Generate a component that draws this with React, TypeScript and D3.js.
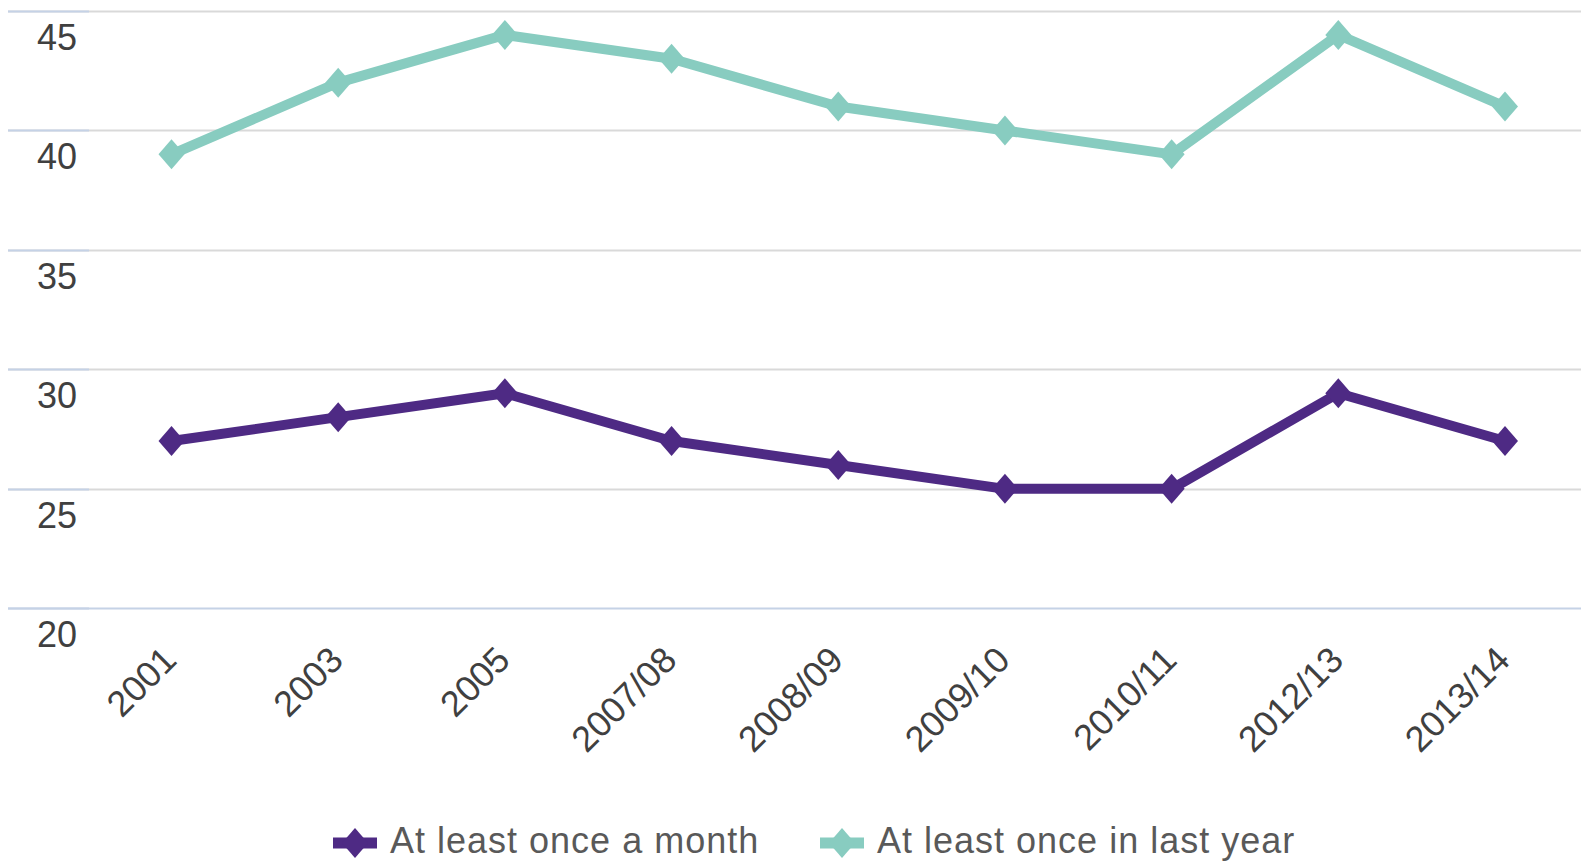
import React, { useEffect, useRef } from 'react';
import * as d3 from 'd3';

const categories = ['2001', '2003', '2005', '2007/08', '2008/09', '2009/10', '2010/11', '2012/13', '2013/14'];
const monthValues = [27, 28, 29, 27, 26, 25, 25, 29, 27];
const yearValues = [39, 42, 44, 43, 41, 40, 39, 44, 41];
const yTicks = [20, 25, 30, 35, 40, 45];

const seriesList = [
    { name: 'At least once a month', values: monthValues, color: '#4e2a84' },
    { name: 'At least once in last year', values: yearValues, color: '#88ccc0' },
];

const App = () => {
    const svgRef = useRef<SVGSVGElement>(null);

    useEffect(() => {
        if (!svgRef.current) return;
        const width = 1581;

        const svg = d3.select(svgRef.current);
        svg.selectAll('*').remove();

        const font = '"Liberation Sans", Arial, sans-serif';

        // scales
        const xScale = d3.scalePoint<string>()
            .domain(categories)
            .range([171.5, 1505]);

        const yScale = d3.scaleLinear()
            .domain([20, 45])
            .range([608.3, 11]);

        // gridlines
        const grid = svg.append('g');
        grid.selectAll('line.grid')
            .data(yTicks)
            .join('line')
            .attr('class', 'grid')
            .attr('x1', 8)
            .attr('x2', width)
            .attr('y1', d => Math.round(yScale(d)) + 0.5)
            .attr('y2', d => Math.round(yScale(d)) + 0.5)
            .attr('stroke', d => d === 20 ? '#c5d2e6' : '#d9d9d9')
            .attr('stroke-width', 2);

        // small bluish tick part at the left
        grid.selectAll('line.tick')
            .data(yTicks)
            .join('line')
            .attr('class', 'tick')
            .attr('x1', 8)
            .attr('x2', 89)
            .attr('y1', d => Math.round(yScale(d)) + 0.5)
            .attr('y2', d => Math.round(yScale(d)) + 0.5)
            .attr('stroke', '#c5d2e6')
            .attr('stroke-width', 2);

        // y labels (sit below their gridline)
        svg.append('g')
            .selectAll('text')
            .data(yTicks)
            .join('text')
            .attr('x', 77)
            .attr('y', d => yScale(d) + 39)
            .attr('text-anchor', 'end')
            .attr('font-family', font)
            .attr('font-size', 36)
            .attr('fill', '#404040')
            .text(d => d);

        // x labels
        svg.append('g')
            .selectAll('text')
            .data(categories)
            .join('text')
            .attr('transform', d => `translate(${(xScale(d) || 0) + 7},662) rotate(-45)`)
            .attr('text-anchor', 'end')
            .attr('font-family', font)
            .attr('font-size', 36)
            .attr('fill', '#404040')
            .text(d => d);

        const diamond = (cx: number, cy: number) =>
            `M${cx},${cy - 15}L${cx + 13},${cy}L${cx},${cy + 15}L${cx - 13},${cy}Z`;

        // lines and markers
        seriesList.forEach(s => {
            const line = d3.line<number>()
                .x((d, i) => xScale(categories[i]) || 0)
                .y(d => yScale(d));

            svg.append('path')
                .datum(s.values)
                .attr('d', line)
                .attr('fill', 'none')
                .attr('stroke', s.color)
                .attr('stroke-width', 10)
                .attr('stroke-linejoin', 'round');

            svg.append('g')
                .selectAll('path')
                .data(s.values)
                .join('path')
                .attr('d', (d, i) => diamond(xScale(categories[i]) || 0, yScale(d)))
                .attr('fill', s.color);
        });

        // legend
        const legendItems = [
            { x: 333, textX: 390 },
            { x: 820, textX: 877 },
        ];
        const legend = svg.append('g');
        seriesList.forEach((s, i) => {
            const item = legendItems[i];
            const cy = 843;
            legend.append('line')
                .attr('x1', item.x)
                .attr('x2', item.x + 44)
                .attr('y1', cy)
                .attr('y2', cy)
                .attr('stroke', s.color)
                .attr('stroke-width', 11);
            legend.append('path')
                .attr('d', diamond(item.x + 22, cy))
                .attr('fill', s.color);
            legend.append('text')
                .attr('x', item.textX)
                .attr('y', 853)
                .attr('font-family', font)
                .attr('font-size', 36)
                .attr('letter-spacing', 1)
                .attr('fill', '#595959')
                .text(s.name);
        });
    }, []);

    return (
        <div style={{ position: 'absolute', left: 0, top: 0, width: 1581, height: 862, background: '#fff' }}>
            <svg ref={svgRef} width={1581} height={862} style={{ display: 'block' }} />
        </div>
    );
};

export default App;
